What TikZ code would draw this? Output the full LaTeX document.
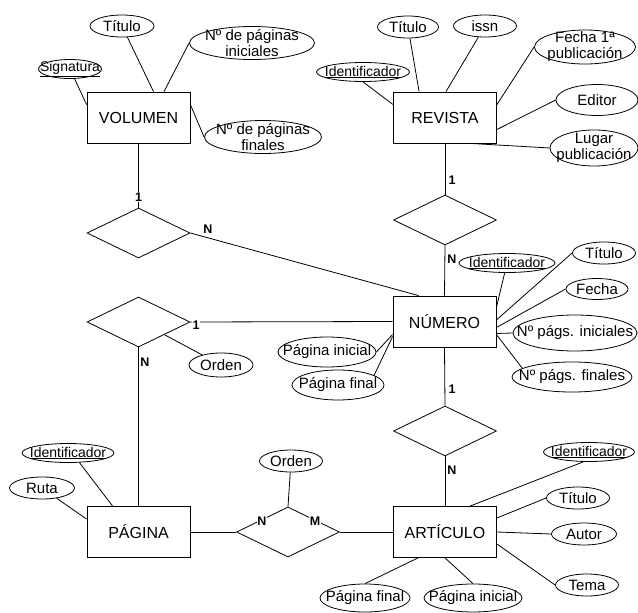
\documentclass[tikz,border=0pt]{standalone}
\usepackage{fontspec}
\setmainfont{Liberation Sans}
\usetikzlibrary{shapes.geometric,calc}

\begin{document}
\begin{tikzpicture}[x=1pt,y=-1pt,line width=0.8pt,
    entity/.style={draw,minimum width=103,minimum height=51,inner sep=0,font=\fontsize{16}{19}\selectfont},
    rel/.style={draw,diamond,minimum width=103,minimum height=50,inner sep=0},
    attr/.style 2 args={draw,ellipse,minimum width=#1,minimum height=#2,inner sep=-20pt,align=center,font=\fontsize{15}{16}\selectfont},
    key/.style={font=\fontsize{14}{16}\selectfont},
    card/.style={fill=white,inner sep=0.5pt,font=\fontsize{12.5}{14}\selectfont\bfseries}]
        \useasboundingbox (0,0) rectangle (638,613);

        % Entities
        \node[entity] (vol) at (138.5,117.5) {VOLUMEN};
        \node[entity] (rev) at (445,117.5) {REVISTA};
        \node[entity] (num) at (444.5,321.5) {NÚMERO};
        \node[entity] (pag) at (138.5,532) {PÁGINA};
        \node[entity] (art) at (445,532) {ARTÍCULO};

        % Relationships
        \node[rel] (dvn) at (138.5,233) {};
        \node[rel] (drn) at (445,220) {};
        \node[rel] (dpn) at (138.5,322) {};
        \node[rel] (dna) at (445,431) {};
        \node[rel] (dpa) at (288,532) {};

        % Attributes of VOLUMEN
        \node[attr={63}{19},key] (vsig) at (70,69) {\underline{Signatura}};
        \node[attr={64}{22}] (vtit) at (122,26) {Título};
        \node[attr={125}{33}] (vini) at (252,43) {Nº de páginas\\iniciales};
        \node[attr={117}{33}] (vfin) at (263,137) {Nº de páginas\\finales};
        \draw (vsig) -- ($(vol.north west)+(0,13)$);
        \draw (vtit) -- ($(vol.north)+(15,0)$);
        \draw (vini.west) -- ($(vol.north)+(25.5,0)$);
        \draw ($(vol.north east)+(0,13)$) -- (vfin.west);

        % Attributes of REVISTA
        \node[attr={93}{19},key] (rid) at (363,72) {\underline{Identificador}};
        \node[attr={61}{22}] (rtit) at (408,27) {Título};
        \node[attr={63}{22}] (rissn) at (485,26) {issn};
        \node[attr={101}{34}] (rfec) at (585,47) {Fecha 1ª\\publicación};
        \node[attr={82}{31}] (redi) at (597,100) {Editor};
        \node[attr={88}{36}] (rlug) at (594,148) {Lugar\\publicación};
        \draw (rid.south) -- ($(rev.north west)+(0,13)$);
        \draw (rtit) -- ($(rev.north west)+(26,0)$);
        \draw (rissn) -- ($(rev.north)+(1,0)$);
        \draw (rfec.west) -- ($(rev.north east)+(0,13)$);
        \draw (redi.west) -- ($(rev.east)+(0,12)$);
        \draw ($(rev.south)+(25,0)$) -- (rlug.west);

        % Attributes of NÚMERO
        \node[attr={96}{19},key] (nid) at (507,263) {\underline{Identificador}};
        \node[attr={63}{22}] (ntit) at (604,253) {Título};
        \node[attr={62}{21}] (nfec) at (597,289) {Fecha};
        \node[attr={124}{36}] (nini) at (575,333) {Nº págs. iniciales};
        \node[attr={120}{30}] (nfin) at (572,377) {Nº págs. finales};
        \node[attr={98}{30}] (npi) at (327,352) {Página inicial};
        \node[attr={92}{30}] (npf) at (338,385) {Página final};
        \draw (nid) -- ($(num.north east)+(0,12)$);
        \draw (ntit.west) -- ($(num.east)+(0,-1.5)$);
        \draw (nfec.west) -- ($(num.east)+(0,6)$);
        \draw ($(num.east)+(0,12)$) -- (nini.west);
        \draw ($(num.east)+(0,13)$) -- (nfin.170);
        \draw (npi.east) -- ($(num.west)+(0,13)$);
        \draw (npf.15) -- ($(num.west)+(0,15)$);

        % Attributes of PÁGINA
        \node[attr={92}{19},key] (pid) at (68,453) {\underline{Identificador}};
        \node[attr={65}{22}] (pruta) at (42,488) {Ruta};
        \draw (pid.-40) -- ($(pag.north west)+(26,0)$);
        \draw (pruta.-35) -- ($(pag.north west)+(0,13)$);

        % Attributes of ARTÍCULO
        \node[attr={91}{19},key] (aid) at (589,452) {\underline{Identificador}};
        \node[attr={63}{22}] (atit) at (578,498) {Título};
        \node[attr={65}{22}] (aaut) at (584,534) {Autor};
        \node[attr={63}{22}] (atema) at (587,585) {Tema};
        \node[attr={90}{28}] (apf) at (365,598) {Página final};
        \node[attr={98}{28}] (api) at (473,598) {Página inicial};
        \draw (aid.-120) -- ($(art.north)+(25,0)$);
        \draw (atit.west) -- ($(art.east)+(0,-14)$);
        \draw (art.east) -- (aaut.west);
        \draw ($(art.east)+(0,12)$) -- (atema.west);
        \draw (apf.north) -- ($(art.south)+(-27,0)$);
        \draw (api.north) -- (art.south);

        % Attributes of relationships
        \node[attr={64}{24}] (ordpn) at (221,365) {Orden};
        \node[attr={63}{22}] (ordpa) at (291,461) {Orden};
        \draw (dpn.south east) -- (ordpn);
        \draw (ordpa) -- (dpa.north);

        % Links
        \draw (vol.south) -- (dvn.north);
        \draw (dvn.east) -- ($(num.north west)+(26,0)$);
        \draw (rev.south) -- (drn.north);
        \draw (drn.south) -- (num.north);
        \draw (dpn.east) -- (num.west);
        \draw (dpn.south) -- (pag.north);
        \draw (num.south) -- (dna.north);
        \draw (dna.south) -- (art.north);
        \draw (pag.east) -- (dpa.west);
        \draw (dpa.east) -- (art.west);

        % Cardinalities
        \node[card] (cvol) at (138.5,197) {1};
        \node[card] (cvn) at (208,229) {N};
        \node[card] (crev) at (452,180) {1};
        \node[card] (crn) at (452,259) {N};
        \node[card] (cpn) at (196,325) {1};
        \node[card] (cpag) at (145,362) {N};
        \node[card] (cna) at (452,389) {1};
        \node[card] (cart) at (452,470) {N};
        \node[card] (cpa) at (262,521) {N};
        \node[card] (cap) at (315,521) {M};
\end{tikzpicture}
\end{document}
